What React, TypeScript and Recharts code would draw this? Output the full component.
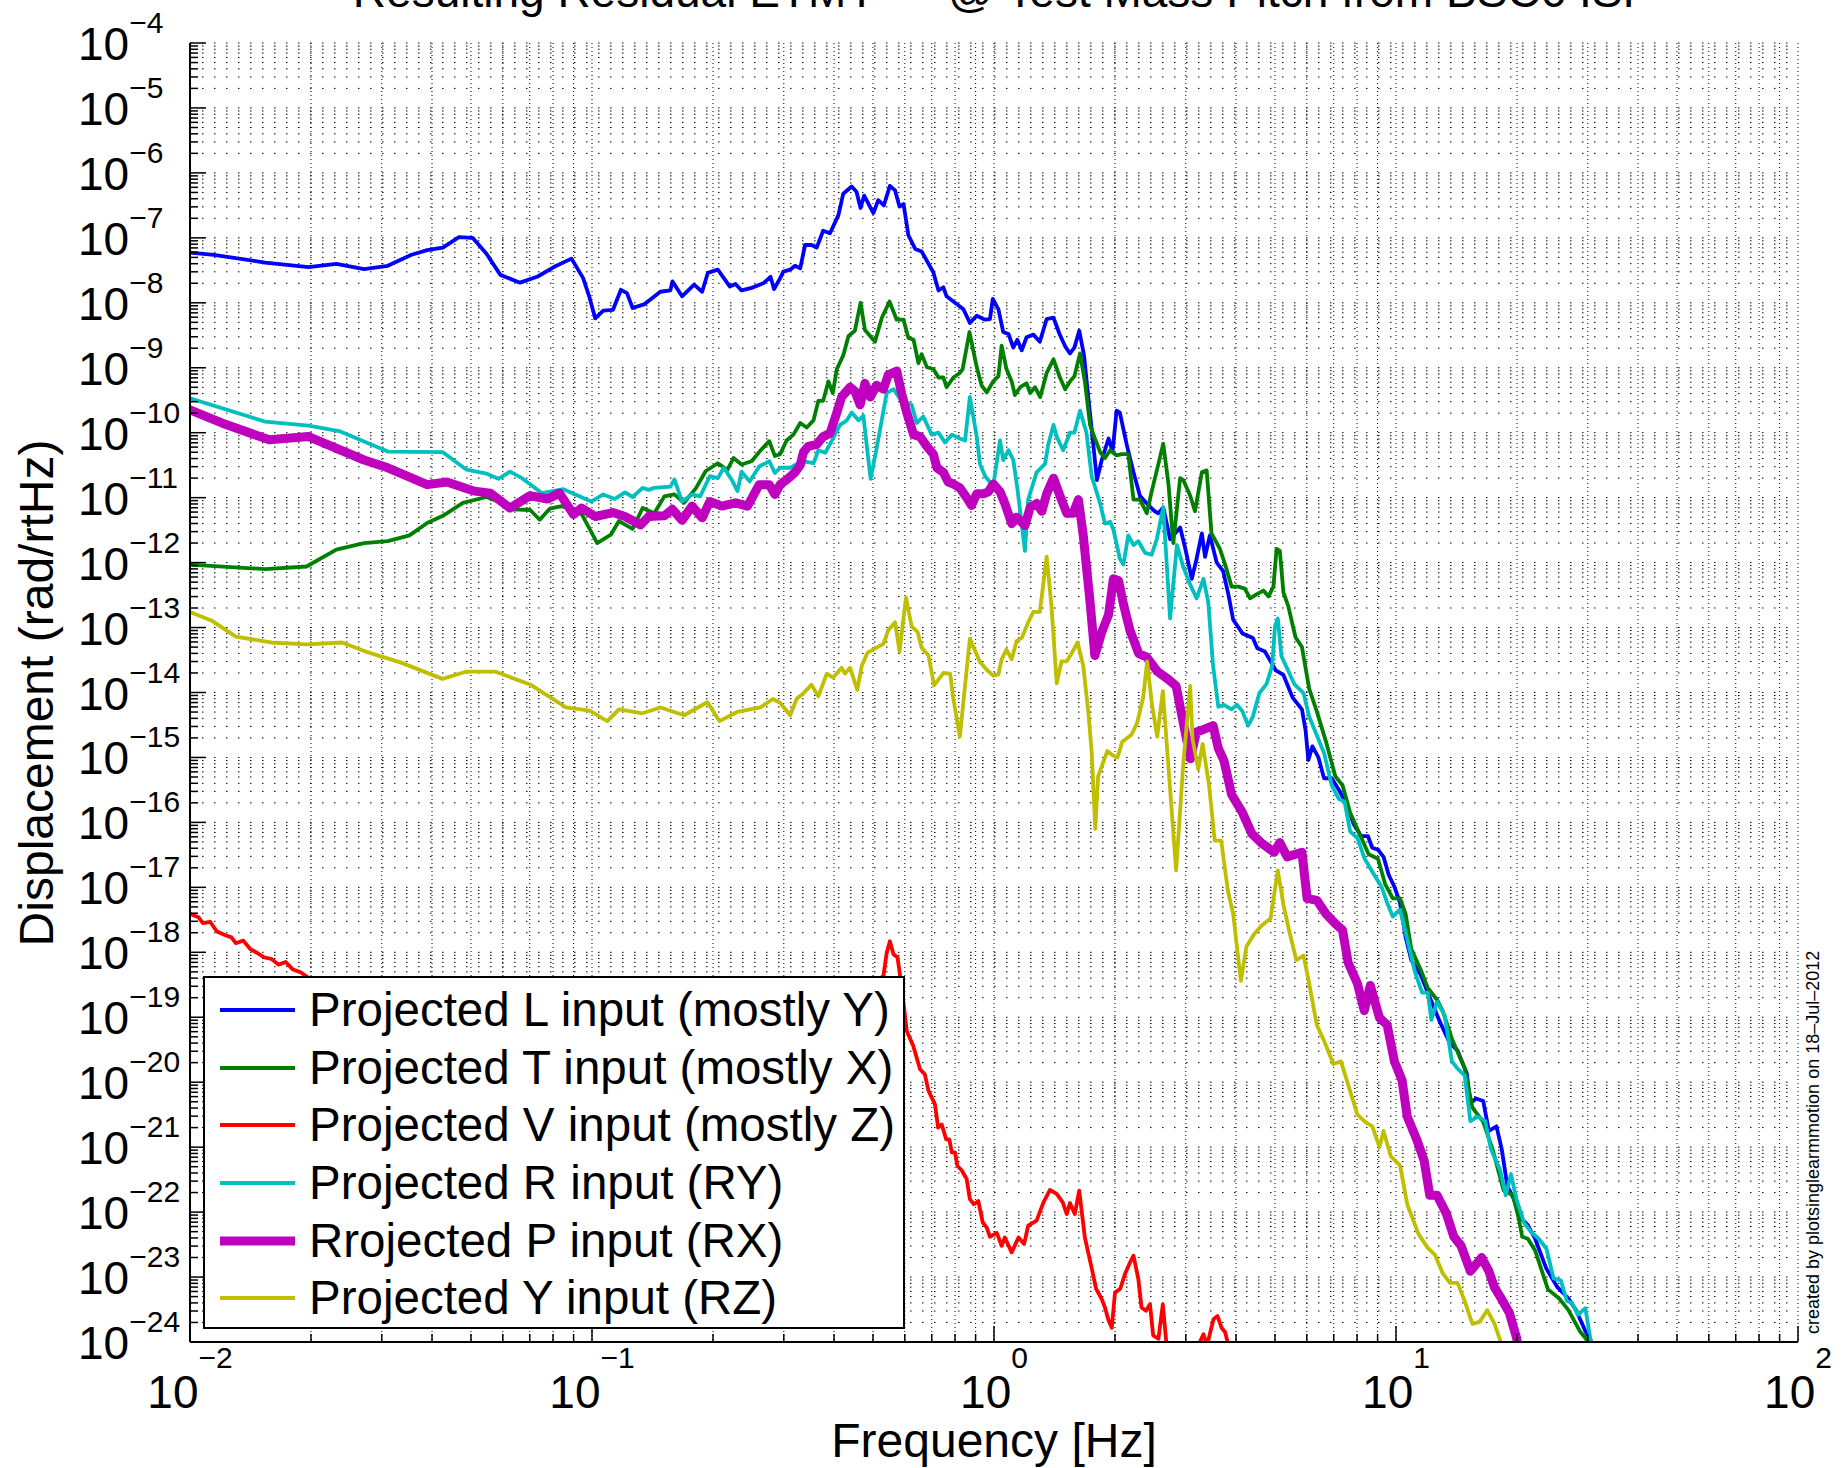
import React from 'react';
import { LineChart, Line, XAxis, YAxis, CartesianGrid, Legend, Customized } from 'recharts';

const FONT = '"Liberation Sans", Arial, Helvetica, sans-serif';

const TITLE = 'Resulting Residual ETMY \u2014 @ Test Mass Pitch from BSC6 ISI';
const X_LABEL = 'Frequency [Hz]';
const Y_LABEL = 'Displacement (rad/rtHz)';
const CREDIT = 'created by plotsinglearmmotion on 18\u2013Jul\u20132012';

// Axis decades (exponents) and minor multipliers
const X_DECADES = [-2, -1, 0, 1, 2];
const Y_DECADES = [-24, -23, -22, -21, -20, -19, -18, -17, -16, -15, -14, -13, -12, -11, -10, -9, -8, -7, -6, -5, -4];
const MINOR_STEPS = [2, 3, 4, 5, 6, 7, 8, 9];

// Series values, as [log10(Hz), log10(rad/rtHz)]
const L_INPUT: number[][] = [
  [-2, -7.226], [-1.941, -7.262], [-1.813, -7.38], [-1.705, -7.45], [-1.636, -7.4], [-1.567, -7.48], [-1.508, -7.43],
  [-1.449, -7.26], [-1.41, -7.19], [-1.371, -7.15], [-1.331, -6.99], [-1.297, -7.0], [-1.263, -7.24], [-1.228, -7.57],
  [-1.179, -7.69], [-1.135, -7.595], [-1.095, -7.45], [-1.051, -7.32], [-1.022, -7.62], [-1.007, -7.9], [-0.992, -8.24],
  [-0.972, -8.12], [-0.948, -8.11], [-0.928, -7.8], [-0.913, -7.85], [-0.899, -8.08], [-0.869, -8.02], [-0.83, -7.83],
  [-0.805, -7.81], [-0.8, -7.67], [-0.776, -7.9], [-0.746, -7.72], [-0.726, -7.83], [-0.712, -7.54], [-0.687, -7.49],
  [-0.657, -7.75], [-0.643, -7.71], [-0.628, -7.81], [-0.603, -7.77], [-0.574, -7.7], [-0.556, -7.6], [-0.547, -7.79],
  [-0.532, -7.62], [-0.524, -7.52], [-0.507, -7.49], [-0.495, -7.43], [-0.482, -7.47], [-0.47, -7.11], [-0.454, -7.11],
  [-0.441, -7.15], [-0.425, -6.89], [-0.408, -6.93], [-0.387, -6.65], [-0.375, -6.32], [-0.354, -6.21], [-0.342, -6.29],
  [-0.332, -6.54], [-0.323, -6.35], [-0.3, -6.62], [-0.288, -6.42], [-0.274, -6.5], [-0.259, -6.2], [-0.246, -6.27],
  [-0.235, -6.52], [-0.225, -6.48], [-0.213, -6.96], [-0.196, -7.17], [-0.18, -7.21], [-0.151, -7.53], [-0.138, -7.81],
  [-0.126, -7.76], [-0.118, -7.9], [-0.101, -7.98], [-0.076, -8.1], [-0.06, -8.31], [-0.043, -8.2], [-0.022, -8.26],
  [-0.01, -8.25], [-0.003, -7.94], [0.011, -8.1], [0.023, -8.45], [0.036, -8.48], [0.048, -8.69], [0.058, -8.57],
  [0.069, -8.73], [0.081, -8.53], [0.098, -8.49], [0.114, -8.6], [0.131, -8.25], [0.148, -8.23], [0.163, -8.48],
  [0.177, -8.67], [0.189, -8.78], [0.2, -8.69], [0.212, -8.43], [0.224, -8.81], [0.235, -9.48], [0.247, -10.18],
  [0.256, -10.73], [0.268, -10.42], [0.285, -10.09], [0.295, -10.29], [0.305, -9.66], [0.313, -9.69], [0.33, -10.18],
  [0.347, -10.61], [0.363, -10.97], [0.38, -11.09], [0.4, -11.21], [0.409, -11.24], [0.421, -11.15], [0.438, -11.64],
  [0.463, -11.46], [0.475, -11.76], [0.492, -12.25], [0.504, -11.94], [0.517, -11.55], [0.525, -11.91], [0.537, -11.58],
  [0.554, -12.0], [0.57, -12.13], [0.583, -12.49], [0.595, -12.88], [0.618, -13.09], [0.644, -13.16], [0.655, -13.32],
  [0.674, -13.37], [0.701, -13.66], [0.72, -13.73], [0.743, -14.08], [0.766, -14.26], [0.775, -14.58], [0.782, -15.04],
  [0.792, -14.83], [0.807, -15.0], [0.821, -15.32], [0.84, -15.32], [0.858, -15.5], [0.876, -15.71], [0.895, -16.03],
  [0.913, -16.21], [0.93, -16.21], [0.941, -16.39], [0.955, -16.42], [0.969, -16.53], [0.982, -16.81], [0.996, -16.99],
  [1.01, -17.24], [1.024, -17.77], [1.038, -18.12], [1.061, -18.34], [1.079, -18.62], [1.107, -19.04], [1.134, -19.4],
  [1.153, -19.51], [1.176, -19.86], [1.185, -20.32], [1.199, -20.25], [1.217, -20.29], [1.231, -20.75], [1.25, -20.68],
  [1.263, -21.03], [1.277, -21.6], [1.291, -21.77], [1.31, -22.09], [1.328, -22.2], [1.346, -22.41], [1.374, -22.87],
  [1.402, -23.16], [1.429, -23.33], [1.448, -23.51], [1.471, -23.83], [1.484, -23.97], [1.495, -24.3],
];

const T_INPUT: number[][] = [
  [-2, -12.03], [-1.813, -12.1], [-1.71, -12.06], [-1.636, -11.8], [-1.567, -11.7], [-1.508, -11.67], [-1.454, -11.58],
  [-1.41, -11.39], [-1.371, -11.28], [-1.321, -11.08], [-1.263, -10.99], [-1.233, -11.06], [-1.194, -11.18], [-1.154, -11.19],
  [-1.13, -11.34], [-1.105, -11.17], [-1.075, -11.13], [-1.026, -11.25], [-0.987, -11.7], [-0.953, -11.57], [-0.933, -11.36],
  [-0.899, -11.48], [-0.874, -11.16], [-0.845, -11.24], [-0.82, -10.98], [-0.795, -10.95], [-0.771, -11.08], [-0.741, -10.85],
  [-0.717, -10.59], [-0.687, -10.47], [-0.663, -10.57], [-0.648, -10.39], [-0.628, -10.49], [-0.603, -10.44], [-0.579, -10.26],
  [-0.559, -10.13], [-0.545, -10.36], [-0.532, -10.33], [-0.516, -10.12], [-0.499, -10.03], [-0.482, -9.85], [-0.466, -9.92],
  [-0.449, -9.81], [-0.437, -9.51], [-0.425, -9.51], [-0.412, -9.21], [-0.401, -9.39], [-0.391, -9.02], [-0.375, -8.81],
  [-0.362, -8.51], [-0.346, -8.43], [-0.332, -8.0], [-0.321, -8.42], [-0.296, -8.6], [-0.279, -8.23], [-0.26, -7.98],
  [-0.242, -8.26], [-0.225, -8.26], [-0.213, -8.54], [-0.2, -8.57], [-0.188, -8.93], [-0.18, -8.79], [-0.167, -8.99],
  [-0.151, -9.02], [-0.138, -9.15], [-0.126, -9.15], [-0.118, -9.3], [-0.101, -9.15], [-0.085, -9.08], [-0.078, -9.02],
  [-0.061, -8.45], [-0.043, -8.99], [-0.031, -9.27], [-0.018, -9.38], [-0.002, -9.21], [0.011, -9.13], [0.019, -8.66],
  [0.031, -9.02], [0.044, -9.21], [0.052, -9.42], [0.065, -9.3], [0.081, -9.24], [0.09, -9.39], [0.102, -9.3],
  [0.115, -9.45], [0.131, -9.08], [0.148, -8.87], [0.164, -9.15], [0.177, -9.33], [0.189, -9.21], [0.2, -9.13],
  [0.214, -8.78], [0.226, -9.21], [0.239, -9.88], [0.251, -10.09], [0.264, -10.3], [0.276, -10.39], [0.289, -10.27],
  [0.305, -10.35], [0.318, -10.33], [0.334, -10.33], [0.347, -11.03], [0.363, -11.03], [0.38, -11.24], [0.392, -10.91],
  [0.409, -10.48], [0.421, -10.17], [0.434, -10.79], [0.446, -11.7], [0.463, -10.7], [0.471, -10.73], [0.488, -10.97],
  [0.5, -11.21], [0.517, -10.61], [0.529, -10.58], [0.541, -11.55], [0.562, -11.79], [0.575, -12.03], [0.591, -12.37],
  [0.608, -12.37], [0.624, -12.4], [0.637, -12.55], [0.653, -12.49], [0.67, -12.43], [0.683, -12.52], [0.695, -12.37],
  [0.703, -11.79], [0.711, -11.82], [0.72, -12.46], [0.732, -12.67], [0.75, -13.15], [0.766, -13.3], [0.784, -13.94],
  [0.803, -14.29], [0.826, -14.76], [0.849, -15.29], [0.867, -15.43], [0.886, -15.85], [0.909, -16.17], [0.932, -16.49],
  [0.955, -16.56], [0.973, -16.95], [0.992, -17.17], [1.01, -17.17], [1.024, -17.41], [1.038, -17.95], [1.061, -18.26],
  [1.079, -18.55], [1.102, -18.73], [1.116, -18.9], [1.139, -19.33], [1.171, -19.79], [1.19, -20.39], [1.217, -20.61],
  [1.24, -21.03], [1.268, -21.67], [1.291, -21.74], [1.305, -22.09], [1.314, -22.38], [1.328, -22.41], [1.346, -22.59],
  [1.378, -23.19], [1.406, -23.33], [1.429, -23.51], [1.457, -23.83], [1.475, -23.97], [1.485, -24.3],
];

const V_INPUT: number[][] = [
  [-2, -17.41], [-1.979, -17.46], [-1.968, -17.55], [-1.95, -17.53], [-1.933, -17.68], [-1.915, -17.73], [-1.897, -17.77],
  [-1.886, -17.86], [-1.868, -17.82], [-1.85, -17.95], [-1.833, -18.01], [-1.815, -18.08], [-1.798, -18.1], [-1.78, -18.19],
  [-1.762, -18.15], [-1.745, -18.26], [-1.724, -18.31], [-1.704, -18.4], [-1.6, -18.6], [-1.4, -18.9], [-1.2, -19.2],
  [-1.0, -19.5], [-0.8, -19.6], [-0.6, -19.4], [-0.45, -19.0], [-0.35, -18.7], [-0.29, -18.45], [-0.275, -18.36],
  [-0.267, -18.01], [-0.259, -17.83], [-0.25, -18.03], [-0.24, -18.08], [-0.23, -18.52], [-0.217, -19.21], [-0.201, -19.44],
  [-0.184, -19.8], [-0.172, -19.88], [-0.163, -20.13], [-0.147, -20.34], [-0.139, -20.7], [-0.13, -20.65], [-0.119, -20.88],
  [-0.111, -20.88], [-0.105, -21.08], [-0.097, -21.08], [-0.091, -21.29], [-0.08, -21.36], [-0.068, -21.49], [-0.06, -21.8],
  [-0.05, -21.88], [-0.039, -21.83], [-0.028, -22.16], [-0.018, -22.24], [-0.01, -22.38], [0.007, -22.32], [0.019, -22.52],
  [0.027, -22.39], [0.044, -22.62], [0.061, -22.39], [0.075, -22.49], [0.085, -22.21], [0.106, -22.13], [0.123, -21.85],
  [0.139, -21.66], [0.156, -21.72], [0.171, -21.85], [0.181, -22.03], [0.189, -21.86], [0.201, -22.03], [0.212, -21.67],
  [0.226, -22.39], [0.239, -22.75], [0.254, -23.18], [0.268, -23.34], [0.276, -23.47], [0.285, -23.67], [0.293, -23.78],
  [0.301, -23.24], [0.314, -23.18], [0.326, -22.95], [0.338, -22.78], [0.347, -22.67], [0.359, -23.03], [0.367, -23.47],
  [0.378, -23.52], [0.388, -23.42], [0.396, -23.9], [0.409, -23.95], [0.42, -23.42], [0.43, -24.1], [0.46, -24.5],
  [0.5, -24.4], [0.513, -23.99], [0.521, -23.88], [0.53, -24.05], [0.546, -23.65], [0.556, -23.6], [0.566, -23.78],
  [0.575, -23.85], [0.583, -24.05], [0.6, -24.5],
];

const R_INPUT: number[][] = [
  [-2, -9.47], [-1.813, -9.83], [-1.705, -9.89], [-1.626, -9.98], [-1.508, -10.29], [-1.371, -10.3], [-1.312, -10.57],
  [-1.263, -10.63], [-1.233, -10.71], [-1.204, -10.6], [-1.174, -10.7], [-1.125, -10.93], [-1.071, -10.87], [-1.002, -11.06],
  [-0.972, -10.95], [-0.943, -11.02], [-0.918, -10.92], [-0.899, -10.99], [-0.874, -10.85], [-0.859, -10.88], [-0.845, -10.85],
  [-0.805, -10.83], [-0.795, -10.72], [-0.776, -11.06], [-0.751, -10.95], [-0.731, -10.98], [-0.707, -10.67], [-0.687, -10.7],
  [-0.672, -10.54], [-0.653, -10.72], [-0.638, -10.9], [-0.628, -10.6], [-0.608, -10.75], [-0.584, -10.52], [-0.559, -10.44],
  [-0.545, -10.62], [-0.532, -10.54], [-0.507, -10.54], [-0.482, -10.45], [-0.466, -10.45], [-0.449, -10.47], [-0.437, -10.27],
  [-0.42, -10.31], [-0.404, -10.13], [-0.383, -9.88], [-0.366, -9.81], [-0.354, -9.69], [-0.337, -9.81], [-0.325, -9.74],
  [-0.307, -10.71], [-0.292, -10.24], [-0.267, -9.39], [-0.25, -9.33], [-0.23, -9.51], [-0.205, -9.57], [-0.192, -9.85],
  [-0.176, -9.75], [-0.155, -10.03], [-0.138, -10.0], [-0.122, -10.15], [-0.105, -10.03], [-0.085, -10.09], [-0.072, -10.12],
  [-0.06, -9.45], [-0.043, -10.06], [-0.035, -10.48], [-0.022, -10.67], [-0.002, -10.82], [0.015, -10.12], [0.023, -10.42],
  [0.036, -10.27], [0.048, -10.42], [0.058, -10.85], [0.077, -11.82], [0.085, -11.03], [0.106, -10.61], [0.127, -10.48],
  [0.135, -10.18], [0.148, -9.88], [0.156, -10.06], [0.172, -10.27], [0.189, -10.0], [0.2, -10.0], [0.214, -9.66],
  [0.23, -10.0], [0.243, -10.67], [0.264, -11.09], [0.276, -11.4], [0.289, -11.37], [0.297, -11.49], [0.313, -11.94],
  [0.322, -12.03], [0.334, -11.58], [0.347, -11.73], [0.359, -11.67], [0.376, -11.85], [0.392, -11.88], [0.405, -11.64],
  [0.421, -11.15], [0.438, -12.86], [0.455, -11.73], [0.471, -12.07], [0.488, -12.34], [0.504, -12.55], [0.521, -12.25],
  [0.533, -12.61], [0.545, -13.59], [0.558, -14.22], [0.572, -14.19], [0.591, -14.26], [0.604, -14.19], [0.618, -14.29],
  [0.632, -14.51], [0.644, -14.37], [0.66, -14.01], [0.678, -13.87], [0.692, -13.59], [0.699, -12.98], [0.706, -12.86],
  [0.715, -13.44], [0.747, -13.87], [0.77, -14.01], [0.784, -14.37], [0.807, -14.72], [0.821, -14.93], [0.84, -15.43],
  [0.858, -15.64], [0.872, -15.68], [0.886, -16.14], [0.904, -16.24], [0.922, -16.56], [0.946, -16.81], [0.964, -16.99],
  [0.978, -17.24], [0.992, -17.45], [1.01, -17.34], [1.024, -17.7], [1.047, -18.3], [1.065, -18.62], [1.079, -18.62],
  [1.088, -19.04], [1.102, -18.76], [1.121, -18.97], [1.139, -19.68], [1.153, -19.79], [1.171, -19.9], [1.185, -20.6],
  [1.203, -20.53], [1.222, -20.6], [1.236, -21.03], [1.259, -21.35], [1.273, -21.74], [1.286, -21.42], [1.3, -21.81],
  [1.319, -22.17], [1.337, -22.31], [1.355, -22.41], [1.374, -22.56], [1.392, -23.02], [1.41, -23.05], [1.425, -23.37],
  [1.438, -23.4], [1.452, -23.58], [1.471, -23.48], [1.484, -23.97], [1.49, -24.3],
];

const P_INPUT: number[][] = [
  [-2, -9.65], [-1.921, -9.85], [-1.803, -10.11], [-1.705, -10.06], [-1.567, -10.42], [-1.508, -10.54], [-1.41, -10.8],
  [-1.361, -10.76], [-1.292, -10.9], [-1.253, -10.93], [-1.204, -11.16], [-1.154, -10.97], [-1.11, -11.02], [-1.081, -10.93],
  [-1.046, -11.26], [-1.026, -11.16], [-0.992, -11.29], [-0.948, -11.23], [-0.918, -11.29], [-0.879, -11.42], [-0.859, -11.29],
  [-0.82, -11.28], [-0.8, -11.18], [-0.776, -11.35], [-0.751, -11.13], [-0.726, -11.31], [-0.707, -11.06], [-0.677, -11.13],
  [-0.643, -11.08], [-0.613, -11.13], [-0.584, -10.8], [-0.559, -10.8], [-0.545, -10.95], [-0.532, -10.8], [-0.511, -10.7],
  [-0.495, -10.61], [-0.482, -10.5], [-0.474, -10.3], [-0.462, -10.21], [-0.441, -10.18], [-0.425, -10.06], [-0.408, -10.01],
  [-0.391, -9.69], [-0.379, -9.45], [-0.358, -9.3], [-0.346, -9.36], [-0.333, -9.57], [-0.321, -9.24], [-0.308, -9.45],
  [-0.292, -9.27], [-0.275, -9.33], [-0.263, -9.11], [-0.242, -9.05], [-0.23, -9.39], [-0.217, -9.69], [-0.2, -10.03],
  [-0.184, -10.06], [-0.167, -10.21], [-0.151, -10.33], [-0.142, -10.54], [-0.126, -10.61], [-0.114, -10.76], [-0.101, -10.79],
  [-0.085, -10.85], [-0.068, -11.0], [-0.056, -11.12], [-0.043, -10.94], [-0.026, -10.94], [-0.014, -10.91], [-0.002, -10.79],
  [0.015, -10.91], [0.027, -11.09], [0.044, -11.4], [0.056, -11.3], [0.077, -11.43], [0.09, -11.15], [0.106, -11.09],
  [0.119, -11.21], [0.131, -10.94], [0.148, -10.7], [0.164, -10.97], [0.181, -11.24], [0.197, -11.24], [0.21, -11.03],
  [0.222, -11.58], [0.239, -12.61], [0.251, -13.43], [0.268, -13.07], [0.285, -12.8], [0.297, -12.25], [0.31, -12.28],
  [0.322, -12.64], [0.338, -13.04], [0.36, -13.4], [0.379, -13.45], [0.407, -13.68], [0.434, -13.8], [0.453, -13.9],
  [0.471, -14.47], [0.489, -15.02], [0.503, -14.61], [0.517, -14.58], [0.545, -14.51], [0.558, -14.86], [0.572, -15.05],
  [0.591, -15.57], [0.618, -15.85], [0.641, -16.17], [0.664, -16.31], [0.697, -16.46], [0.711, -16.31], [0.729, -16.53],
  [0.766, -16.46], [0.779, -17.17], [0.803, -17.2], [0.826, -17.41], [0.849, -17.56], [0.867, -17.66], [0.881, -18.16],
  [0.904, -18.48], [0.921, -18.9], [0.936, -18.51], [0.959, -19.01], [0.978, -19.12], [0.996, -19.68], [1.015, -19.97],
  [1.028, -20.53], [1.052, -20.89], [1.07, -21.21], [1.084, -21.74], [1.102, -21.74], [1.125, -22.02], [1.144, -22.38],
  [1.162, -22.52], [1.185, -22.91], [1.213, -22.7], [1.231, -22.91], [1.245, -23.16], [1.259, -23.3], [1.282, -23.55],
  [1.3, -23.94], [1.31, -24.3],
];

const Y_INPUT: number[][] = [
  [-2, -12.76], [-1.944, -12.9], [-1.886, -13.14], [-1.798, -13.23], [-1.71, -13.26], [-1.622, -13.23], [-1.563, -13.37],
  [-1.475, -13.54], [-1.372, -13.79], [-1.314, -13.68], [-1.24, -13.68], [-1.153, -13.88], [-1.065, -14.23], [-1.006, -14.28],
  [-0.962, -14.44], [-0.933, -14.26], [-0.874, -14.32], [-0.83, -14.23], [-0.771, -14.35], [-0.713, -14.15], [-0.683, -14.44],
  [-0.639, -14.3], [-0.581, -14.23], [-0.55, -14.1], [-0.532, -14.16], [-0.507, -14.35], [-0.491, -14.1], [-0.474, -14.01],
  [-0.454, -13.88], [-0.437, -14.06], [-0.416, -13.71], [-0.4, -13.77], [-0.379, -13.62], [-0.371, -13.71], [-0.358, -13.62],
  [-0.34, -13.96], [-0.329, -13.59], [-0.315, -13.39], [-0.292, -13.31], [-0.275, -13.25], [-0.263, -13.04], [-0.246, -12.92],
  [-0.235, -13.37], [-0.219, -12.54], [-0.205, -12.98], [-0.19, -13.07], [-0.18, -13.31], [-0.163, -13.43], [-0.149, -13.89],
  [-0.126, -13.7], [-0.109, -13.71], [-0.101, -14.1], [-0.085, -14.68], [-0.06, -13.17], [-0.035, -13.53], [-0.018, -13.65],
  [-0.002, -13.74], [0.011, -13.72], [0.019, -13.49], [0.031, -13.34], [0.044, -13.49], [0.056, -13.21], [0.069, -13.16],
  [0.085, -12.92], [0.098, -12.76], [0.114, -12.76], [0.131, -11.91], [0.143, -12.67], [0.156, -13.86], [0.168, -13.52],
  [0.181, -13.52], [0.193, -13.4], [0.208, -13.23], [0.222, -13.59], [0.235, -14.32], [0.243, -14.92], [0.252, -16.1],
  [0.259, -15.29], [0.282, -14.9], [0.296, -14.97], [0.307, -15.0], [0.319, -14.76], [0.342, -14.65], [0.356, -14.47],
  [0.371, -14.08], [0.381, -13.52], [0.393, -14.19], [0.406, -14.68], [0.42, -13.98], [0.434, -15.15], [0.453, -16.74],
  [0.471, -15.08], [0.488, -13.9], [0.494, -14.72], [0.508, -15.18], [0.519, -14.79], [0.535, -15.43], [0.549, -16.28],
  [0.565, -16.28], [0.582, -17.06], [0.595, -17.41], [0.614, -18.44], [0.628, -17.91], [0.646, -17.73], [0.665, -17.59],
  [0.688, -17.48], [0.706, -16.74], [0.72, -17.27], [0.734, -17.66], [0.752, -18.12], [0.77, -18.05], [0.784, -18.48],
  [0.803, -19.12], [0.821, -19.36], [0.844, -19.72], [0.863, -19.68], [0.881, -20.04], [0.904, -20.5], [0.923, -20.61],
  [0.941, -20.68], [0.959, -21.0], [0.969, -20.75], [0.987, -21.14], [1.01, -21.28], [1.028, -21.88], [1.056, -22.34],
  [1.079, -22.55], [1.097, -22.66], [1.116, -22.94], [1.134, -23.09], [1.153, -23.09], [1.171, -23.37], [1.19, -23.72],
  [1.208, -23.69], [1.227, -23.51], [1.245, -23.72], [1.259, -23.97], [1.27, -24.3],
];

const SERIES_NAMES = [
  'Projected L input (mostly Y)',
  'Projected T input (mostly X)',
  'Projected V input (mostly Z)',
  'Projected R input (RY)',
  'Rrojected P input (RX)',
  'Projected Y input (RZ)',
];
const SERIES_COLORS = ['#0000ff', '#008000', '#ff0000', '#00bfbf', '#bf00bf', '#bfbf00'];
const SERIES_WIDTHS = [3.8, 3.8, 3.8, 3.8, 9, 3.8];
const SERIES_VALUES = [L_INPUT, T_INPUT, V_INPUT, R_INPUT, P_INPUT, Y_INPUT];

const toPoints = (arr: number[][]) => arr.map(([lf, lv]) => ({ f: Math.pow(10, lf), v: Math.pow(10, lv) }));
const SERIES = SERIES_VALUES.map((vals, i) => ({
  key: `s${i}`,
  name: SERIES_NAMES[i],
  color: SERIES_COLORS[i],
  width: SERIES_WIDTHS[i],
  data: toPoints(vals),
}));

const buildTicks = (decades: number[]) => {
  const out: number[] = [];
  decades.forEach((d, i) => {
    out.push(Math.pow(10, d));
    if (i < decades.length - 1) MINOR_STEPS.forEach((k) => out.push(k * Math.pow(10, d)));
  });
  return out;
};
const X_TICKS = buildTicks(X_DECADES);
const Y_TICKS = buildTicks(Y_DECADES);

const decadeOf = (v: number) => Math.round(Math.log10(v));
const isMajor = (v: number) => Math.abs(v / Math.pow(10, decadeOf(v)) - 1) < 1e-6;
const expText = (d: number) => (d < 0 ? `\u2212${-d}` : `${d}`);

const MAJOR_LEN = 16;
const MINOR_LEN = 8;

const YTickLeft = (props: any) => {
  const { x, y, payload } = props;
  const v = payload.value;
  const major = isMajor(v);
  return (
    <g>
      <line x1={x} y1={y} x2={x + (major ? MAJOR_LEN : MINOR_LEN)} y2={y} stroke="#000" strokeWidth={1.5} />
      {major && (
        <text x={x - 112} y={y + 17} fontFamily={FONT} fontSize={46} fill="#000">
          10
          <tspan dy={-27} fontSize={30}>{expText(decadeOf(v))}</tspan>
        </text>
      )}
    </g>
  );
};

const YTickRight = (props: any) => {
  const { x, y, payload } = props;
  const major = isMajor(payload.value);
  return <line x1={x} y1={y} x2={x - (major ? MAJOR_LEN : MINOR_LEN)} y2={y} stroke="#000" strokeWidth={1.5} />;
};

const XTickBottom = (props: any) => {
  const { x, y, payload } = props;
  const v = payload.value;
  const major = isMajor(v);
  return (
    <g>
      <line x1={x} y1={y} x2={x} y2={y - (major ? MAJOR_LEN : MINOR_LEN)} stroke="#000" strokeWidth={1.5} />
      {major && (
        <text x={x} y={y + 66} textAnchor="middle" fontFamily={FONT} fontSize={46} fill="#000">
          10
          <tspan dy={-40} fontSize={30}>{expText(decadeOf(v))}</tspan>
        </text>
      )}
    </g>
  );
};

const XTickTop = (props: any) => {
  const { x, y, payload } = props;
  const major = isMajor(payload.value);
  return <line x1={x} y1={y} x2={x} y2={y + (major ? MAJOR_LEN : MINOR_LEN)} stroke="#000" strokeWidth={1.5} />;
};

const LegendBox = () => {
  const rowY = [34, 92, 149, 207, 265, 322];
  return (
    <svg width={702} height={353} style={{ display: 'block' }}>
      <rect x={1} y={1} width={700} height={351} fill="#fff" stroke="#000" strokeWidth={2} />
      {SERIES.map((s, i) => (
        <g key={s.key}>
          <line x1={17} x2={92} y1={rowY[i]} y2={rowY[i]} stroke={s.color} strokeWidth={s.width} />
          <text x={106} y={rowY[i] + 16} fontFamily={FONT} fontSize={47.5} fill="#000">
            {s.name}
          </text>
        </g>
      ))}
    </svg>
  );
};

const Annotations = () => (
  <g fontFamily={FONT} fill="#000">
    <text x={994} y={7} textAnchor="middle" fontSize={46}>{TITLE}</text>
    <text x={994} y={1457} textAnchor="middle" fontSize={48}>{X_LABEL}</text>
    <text transform="translate(53,693) rotate(-90)" textAnchor="middle" fontSize={48}>{Y_LABEL}</text>
    <text transform="translate(1819,1334) rotate(-90)" fontSize={18}>{CREDIT}</text>
  </g>
);

export default function App() {
  return (
    <div style={{ position: 'absolute', left: 0, top: 0, width: 1848, height: 1468, background: '#fff' }}>
      <LineChart width={1848} height={1468} margin={{ top: 43, right: 50, bottom: 0, left: 0 }}>
        <CartesianGrid vertical={false} stroke="#000" strokeWidth={1} strokeDasharray="1.5 10.5" />
        <CartesianGrid horizontal={false} stroke="#000" strokeWidth={1} strokeDasharray="1 3" />
        <XAxis
          dataKey="f"
          type="number"
          scale="log"
          domain={[0.01, 100]}
          allowDataOverflow
          ticks={X_TICKS}
          interval={0}
          height={126}
          tickSize={0}
          tickMargin={0}
          tickLine={false}
          tick={<XTickBottom />}
          axisLine={{ stroke: '#000', strokeWidth: 2 }}
        />
        <XAxis
          xAxisId="top"
          orientation="top"
          dataKey="f"
          type="number"
          scale="log"
          domain={[0.01, 100]}
          allowDataOverflow
          ticks={X_TICKS}
          interval={0}
          height={0}
          tickSize={0}
          tickMargin={0}
          tickLine={false}
          tick={<XTickTop />}
          axisLine={{ stroke: '#000', strokeWidth: 2 }}
        />
        <YAxis
          type="number"
          scale="log"
          domain={[1e-24, 1e-4]}
          allowDataOverflow
          ticks={Y_TICKS}
          interval={0}
          width={190}
          tickSize={0}
          tickMargin={0}
          tickLine={false}
          tick={<YTickLeft />}
          axisLine={{ stroke: '#000', strokeWidth: 2 }}
        />
        <YAxis
          yAxisId="right"
          orientation="right"
          type="number"
          scale="log"
          domain={[1e-24, 1e-4]}
          allowDataOverflow
          ticks={Y_TICKS}
          interval={0}
          width={0}
          tickSize={0}
          tickMargin={0}
          tickLine={false}
          tick={<YTickRight />}
          axisLine={{ stroke: '#000', strokeWidth: 2 }}
        />
        {SERIES.map((s) => (
          <Line
            key={s.key}
            data={s.data}
            dataKey="v"
            name={s.name}
            type="linear"
            stroke={s.color}
            strokeWidth={s.width}
            strokeLinejoin="round"
            strokeLinecap="round"
            dot={false}
            activeDot={false}
            isAnimationActive={false}
          />
        ))}
        <Customized component={Annotations} />
        <Legend
          layout="vertical"
          align="center"
          verticalAlign="middle"
          width={702}
          height={353}
          wrapperStyle={{ left: 203, top: 976, width: 702, height: 353 }}
          content={() => <LegendBox />}
        />
      </LineChart>
    </div>
  );
}
